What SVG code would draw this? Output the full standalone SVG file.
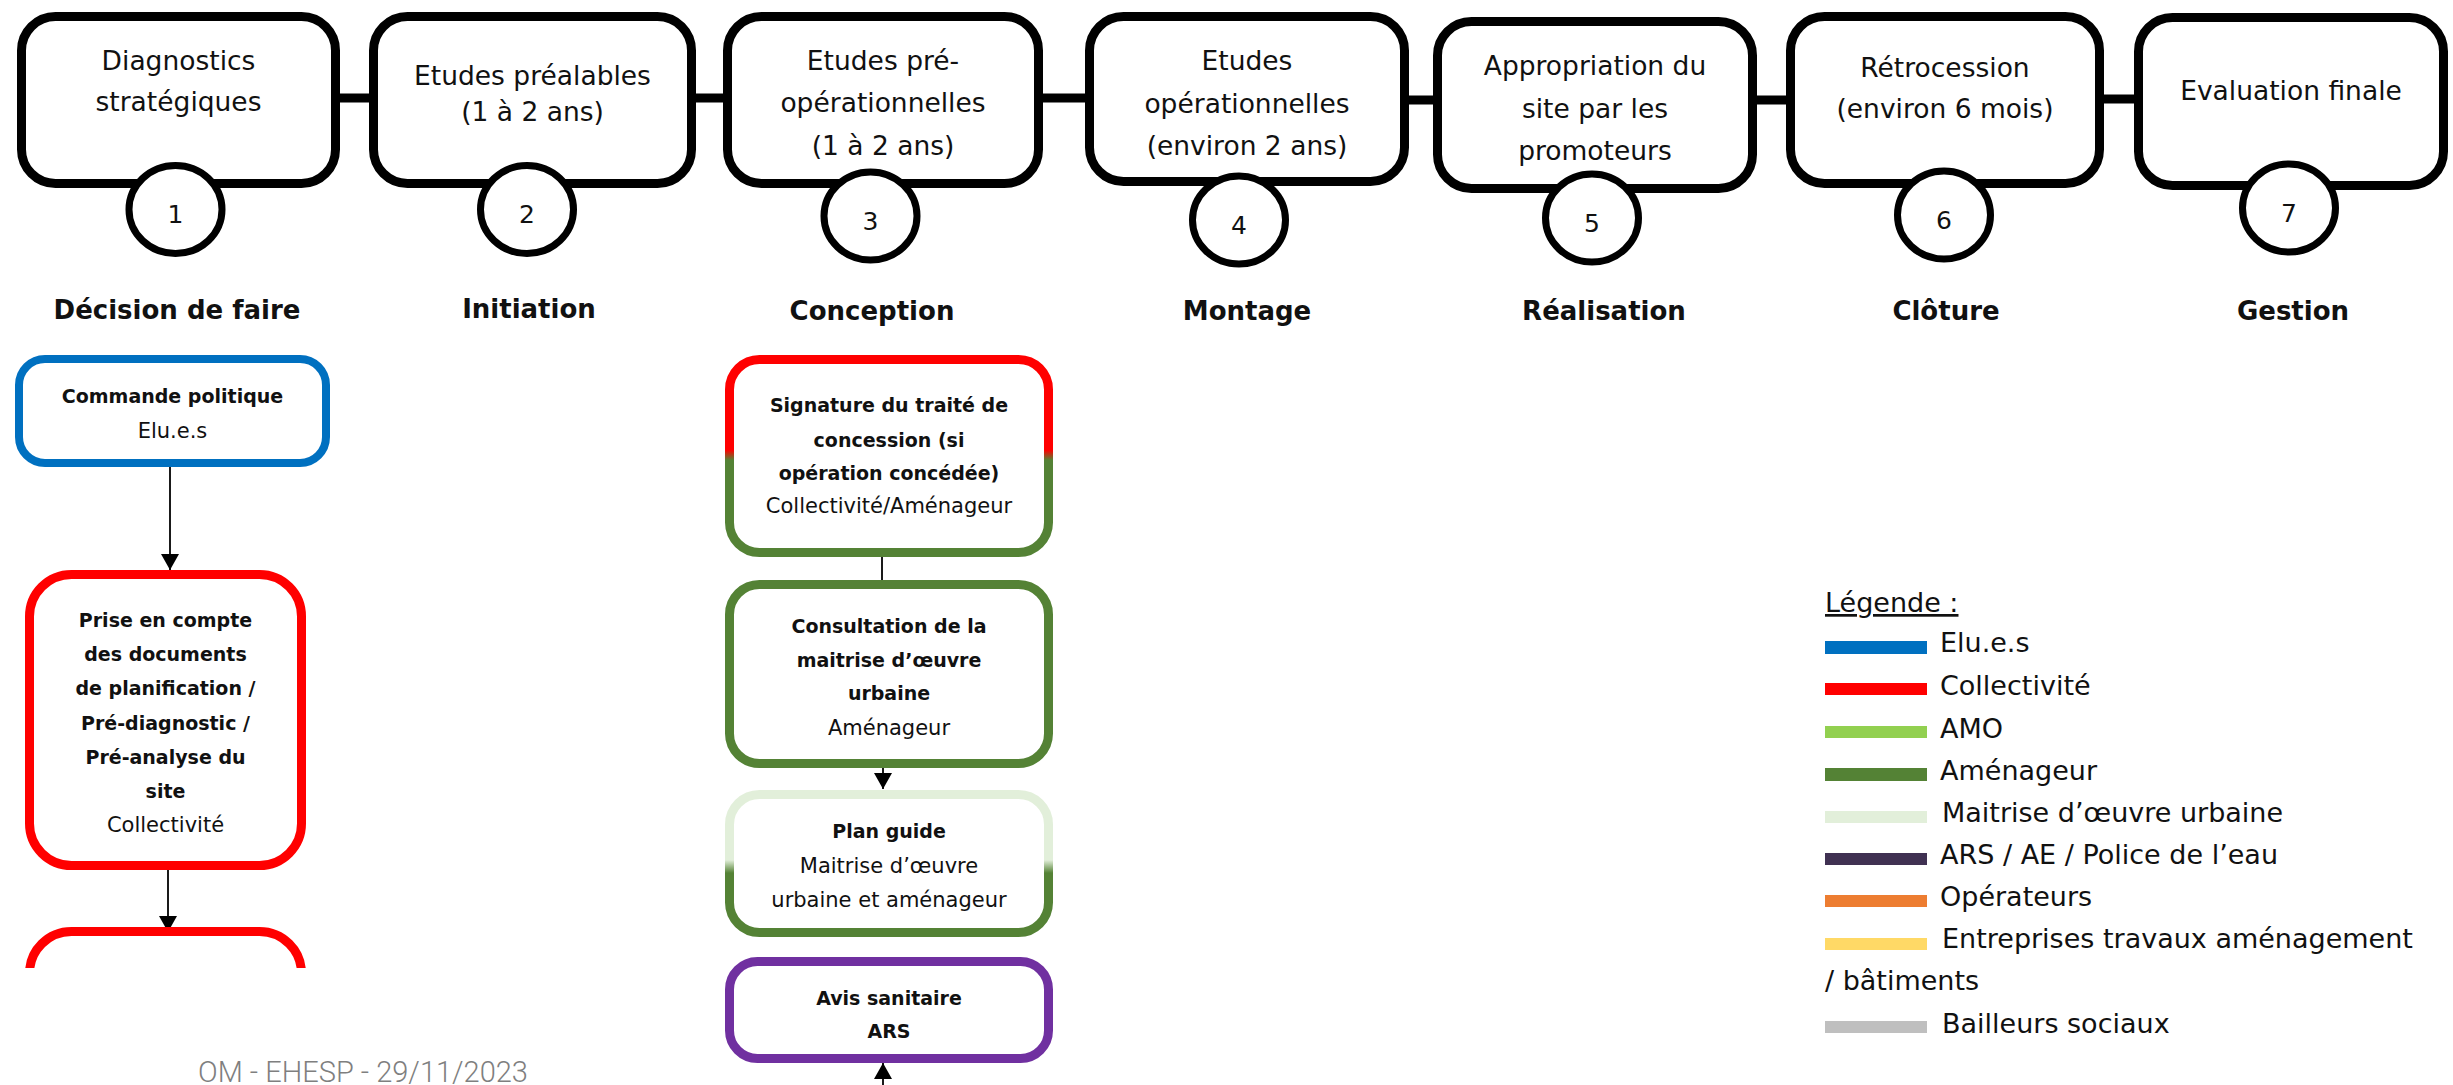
<svg xmlns="http://www.w3.org/2000/svg" width="2453" height="1085" viewBox="0 0 2453 1085">
<defs>
<style>
text{font-family:"DejaVu Sans",sans-serif;fill:#111}
.ph{fill:#fff;stroke:#000;stroke-width:9}
.ci{fill:#fff;stroke:#000;stroke-width:7}
.bt{font-size:26.5px;text-anchor:middle}
.num{font-size:25px;text-anchor:middle}
.lbl{font-size:26px;font-weight:bold;text-anchor:middle}
.sb{font-size:19px;font-weight:bold;text-anchor:middle}
.sr{font-size:21px;text-anchor:middle}
.bar{stroke:#000;stroke-width:9}
.arr{stroke:#1a1a1a;stroke-width:2;fill:none}
.nb{fill:#fff;stroke-width:9}
.lg{font-size:27px}
</style>
<marker id="ah" markerUnits="userSpaceOnUse" markerWidth="18" markerHeight="18" viewBox="0 0 16 18" refX="16" refY="9" orient="auto">
<path d="M0,0 L16,9 L0,18 Z" fill="#000"/>
</marker>
<linearGradient id="gA" gradientUnits="userSpaceOnUse" x1="0" y1="450" x2="0" y2="460"><stop offset="0" stop-color="#FF0000"/><stop offset="1" stop-color="#548235"/></linearGradient>
<linearGradient id="gC" gradientUnits="userSpaceOnUse" x1="0" y1="860" x2="0" y2="873"><stop offset="0" stop-color="#E2EFDA"/><stop offset="1" stop-color="#548235"/></linearGradient>
<clipPath id="clipL"><rect x="0" y="900" width="400" height="68"/></clipPath>
</defs>
<rect x="0" y="0" width="2453" height="1085" fill="#fff"/>

<g id="connectors">
<line class="bar" x1="335" y1="98" x2="374" y2="98"/>
<line class="bar" x1="691" y1="98" x2="728" y2="98"/>
<line class="bar" x1="1038" y1="98" x2="1090" y2="98"/>
<line class="bar" x1="1404" y1="100" x2="1438" y2="100"/>
<line class="bar" x1="1752" y1="100" x2="1791" y2="100"/>
<line class="bar" x1="2099" y1="99" x2="2139" y2="99"/>
<line class="arr" x1="170" y1="467" x2="170" y2="570" marker-end="url(#ah)"/>
<line class="arr" x1="168" y1="870" x2="168" y2="932" marker-end="url(#ah)"/>
<line class="arr" x1="882" y1="557" x2="882" y2="581"/>
<line class="arr" x1="883" y1="767" x2="883" y2="789" marker-end="url(#ah)"/>
<line class="arr" x1="883" y1="1085" x2="883" y2="1063" marker-end="url(#ah)"/>
</g>

<g id="phase1">
<rect class="ph" x="21.5" y="16.5" width="314" height="167" rx="34"/>
<text class="bt" x="178.5" y="70">Diagnostics</text>
<text class="bt" x="178.5" y="111">stratégiques</text>
<ellipse class="ci" cx="175.5" cy="209.5" rx="46.5" ry="44"/>
<text class="num" x="175.5" y="223">1</text>
<text class="lbl" x="177" y="319">Décision de faire</text>
</g>
<g id="phase2">
<rect class="ph" x="373.5" y="16.5" width="318" height="167" rx="34"/>
<text class="bt" x="532.5" y="85">Etudes préalables</text>
<text class="bt" x="532.5" y="121">(1 à 2 ans)</text>
<ellipse class="ci" cx="527" cy="209.5" rx="46.5" ry="44"/>
<text class="num" x="527" y="223">2</text>
<text class="lbl" x="529" y="318">Initiation</text>
</g>
<g id="phase3">
<rect class="ph" x="727.5" y="16.5" width="311" height="167" rx="34"/>
<text class="bt" x="883" y="70">Etudes pré-</text>
<text class="bt" x="883" y="112">opérationnelles</text>
<text class="bt" x="883" y="155">(1 à 2 ans)</text>
<ellipse class="ci" cx="870.5" cy="216" rx="46.5" ry="44"/>
<text class="num" x="870.5" y="230">3</text>
<text class="lbl" x="872" y="320">Conception</text>
</g>
<g id="phase4">
<rect class="ph" x="1089.5" y="16.5" width="315" height="165" rx="34"/>
<text class="bt" x="1247" y="70">Etudes</text>
<text class="bt" x="1247" y="113">opérationnelles</text>
<text class="bt" x="1247" y="155">(environ 2 ans)</text>
<ellipse class="ci" cx="1239" cy="220" rx="46.5" ry="44"/>
<text class="num" x="1239" y="234">4</text>
<text class="lbl" x="1247" y="320">Montage</text>
</g>
<g id="phase5">
<rect class="ph" x="1437.5" y="21.5" width="315" height="167" rx="34"/>
<text class="bt" x="1595" y="75">Appropriation du</text>
<text class="bt" x="1595" y="118">site par les</text>
<text class="bt" x="1595" y="160">promoteurs</text>
<ellipse class="ci" cx="1592" cy="218" rx="46.5" ry="44"/>
<text class="num" x="1592" y="232">5</text>
<text class="lbl" x="1604" y="320">Réalisation</text>
</g>
<g id="phase6">
<rect class="ph" x="1790.5" y="16.5" width="309" height="167" rx="34"/>
<text class="bt" x="1945" y="77">Rétrocession</text>
<text class="bt" x="1945" y="118">(environ 6 mois)</text>
<ellipse class="ci" cx="1944" cy="215" rx="46.5" ry="44"/>
<text class="num" x="1944" y="229">6</text>
<text class="lbl" x="1946" y="320">Clôture</text>
</g>
<g id="phase7">
<rect class="ph" x="2138.5" y="17.5" width="305" height="168" rx="34"/>
<text class="bt" x="2291" y="100">Evaluation finale</text>
<ellipse class="ci" cx="2289" cy="208" rx="46.5" ry="44"/>
<text class="num" x="2289" y="222">7</text>
<text class="lbl" x="2293" y="320">Gestion</text>
</g>

<g id="commande-politique">
<rect class="nb" stroke="#0070C0" style="stroke-width:8" x="19" y="359" width="307" height="104" rx="26"/>
<text class="sb" x="172.5" y="403">Commande politique</text>
<text class="sr" x="172.5" y="438">Elu.e.s</text>
</g>
<g id="prise-en-compte">
<rect class="nb" stroke="#FF0000" x="29.5" y="574.5" width="272" height="291" rx="42"/>
<text class="sb" x="165.5" y="627">Prise en compte</text>
<text class="sb" x="165.5" y="661">des documents</text>
<text class="sb" x="165.5" y="695">de planification /</text>
<text class="sb" x="165.5" y="730">Pré-diagnostic /</text>
<text class="sb" x="165.5" y="764">Pré-analyse du</text>
<text class="sb" x="165.5" y="798">site</text>
<text class="sr" x="165.5" y="832">Collectivité</text>
</g>
<g id="collectivite-suite" clip-path="url(#clipL)">
<rect class="nb" stroke="#FF0000" x="29.5" y="931.5" width="272" height="200" rx="42"/>
</g>

<g id="signature-traite">
<rect class="nb" stroke="url(#gA)" x="729.5" y="359.5" width="319" height="193" rx="30"/>
<text class="sb" x="889" y="412">Signature du traité de</text>
<text class="sb" x="889" y="447">concession (si</text>
<text class="sb" x="889" y="480">opération concédée)</text>
<text class="sr" x="889" y="513">Collectivité/Aménageur</text>
</g>
<g id="consultation-moe">
<rect class="nb" stroke="#548235" x="729.5" y="584.5" width="319" height="179" rx="30"/>
<text class="sb" x="889" y="633">Consultation de la</text>
<text class="sb" x="889" y="667">maitrise d’œuvre</text>
<text class="sb" x="889" y="700">urbaine</text>
<text class="sr" x="889" y="735">Aménageur</text>
</g>
<g id="plan-guide">
<rect class="nb" stroke="url(#gC)" x="729.5" y="794.5" width="319" height="138" rx="30"/>
<text class="sb" x="889" y="838">Plan guide</text>
<text class="sr" x="889" y="873">Maitrise d’œuvre</text>
<text class="sr" x="889" y="907">urbaine et aménageur</text>
</g>
<g id="avis-sanitaire">
<rect class="nb" stroke="#7030A0" x="729.5" y="961.5" width="319" height="97" rx="28"/>
<text class="sb" x="889" y="1005">Avis sanitaire</text>
<text class="sb" x="889" y="1038">ARS</text>
</g>

<g id="legende">
<text class="lg" x="1825" y="612" text-decoration="underline">Légende :</text>
<rect x="1825" y="641" width="102" height="13" fill="#0070C0"/>
<text class="lg" x="1940" y="652">Elu.e.s</text>
<rect x="1825" y="683" width="102" height="12" fill="#FF0000"/>
<text class="lg" x="1940" y="695">Collectivité</text>
<rect x="1825" y="726" width="102" height="12" fill="#92D050"/>
<text class="lg" x="1940" y="738">AMO</text>
<rect x="1825" y="768" width="102" height="13" fill="#548235"/>
<text class="lg" x="1940" y="780">Aménageur</text>
<rect x="1825" y="811" width="102" height="12" fill="#E2EFDA"/>
<text class="lg" x="1942" y="822">Maitrise d’œuvre urbaine</text>
<rect x="1825" y="853" width="102" height="12" fill="#403152"/>
<text class="lg" x="1940" y="864">ARS / AE / Police de l’eau</text>
<rect x="1825" y="895" width="102" height="12" fill="#ED7D31"/>
<text class="lg" x="1940" y="906">Opérateurs</text>
<rect x="1825" y="938" width="102" height="12" fill="#FFD966"/>
<text class="lg" x="1942" y="948">Entreprises travaux aménagement</text>
<text class="lg" x="1825" y="990">/ bâtiments</text>
<rect x="1825" y="1021" width="102" height="12" fill="#BFBFBF"/>
<text class="lg" x="1942" y="1033">Bailleurs sociaux</text>
</g>

<text x="198" y="1082" style="font-family:Roboto,'Liberation Sans',sans-serif;font-weight:300;font-size:29px;fill:#7f7f7f">OM - EHESP - 29/11/2023</text>
</svg>
